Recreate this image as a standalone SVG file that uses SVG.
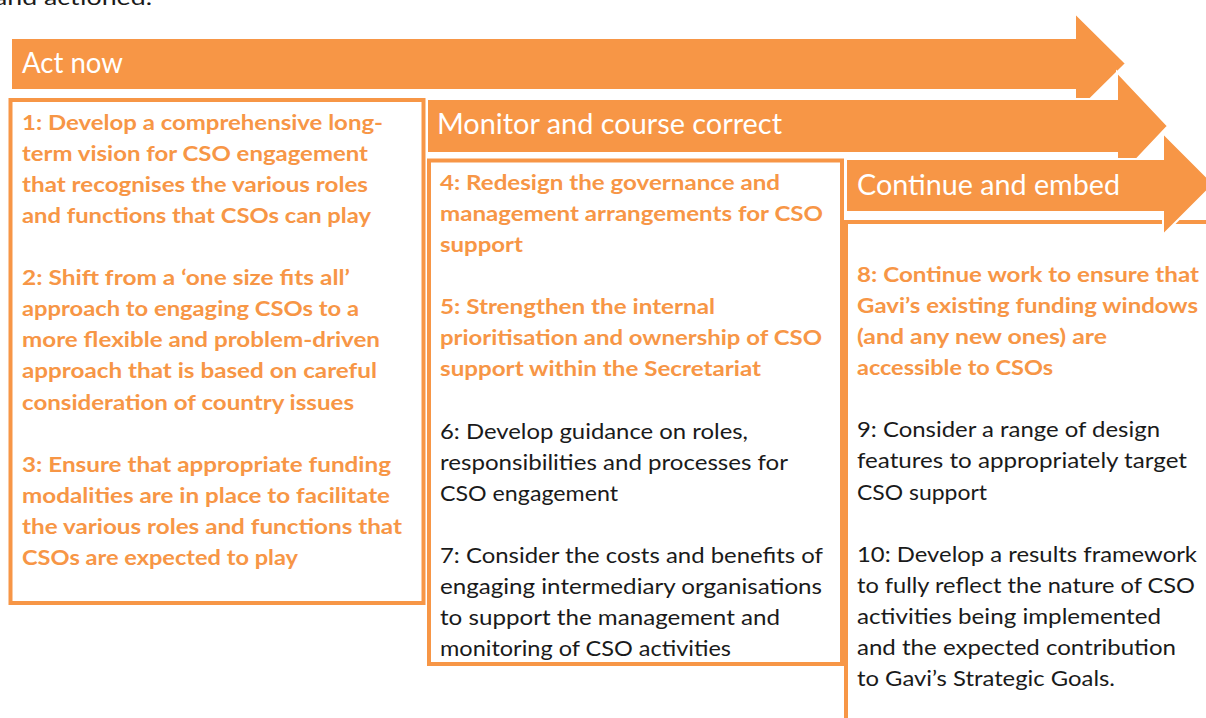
<svg xmlns="http://www.w3.org/2000/svg" width="1206" height="718" viewBox="0 0 1206 718">
<style>
.bg{fill:#ffffff}
.box{fill:#ffffff;stroke:#F79646;stroke-width:4}
.arrow{fill:#F79646;stroke:#ffffff;stroke-width:2;stroke-linejoin:miter}
.hd{font-family:Lato,"Open Sans","Liberation Sans",sans-serif;font-size:28px;fill:#ffffff}
.ob{font-family:Lato,"Open Sans","Liberation Sans",sans-serif;font-size:21px;font-weight:bold;fill:#F79646}
.bk{font-family:Lato,"Open Sans","Liberation Sans",sans-serif;font-size:21px;fill:#1a1a1a}
</style>
<rect class="bg" x="0" y="0" width="1206" height="718"/>
<text class="bk" x="-6" y="5" font-size="24" textLength="158" lengthAdjust="spacingAndGlyphs">and actioned.</text>

<g id="box-act-now">
<rect class="box" x="10.5" y="100" width="413" height="503"/>
<text class="ob" x="22" y="130" textLength="361" lengthAdjust="spacingAndGlyphs">1: Develop a comprehensive long-</text>
<text class="ob" x="22" y="161" textLength="346" lengthAdjust="spacingAndGlyphs">term vision for CSO engagement</text>
<text class="ob" x="22" y="192" textLength="346" lengthAdjust="spacingAndGlyphs">that recognises the various roles</text>
<text class="ob" x="22" y="223" textLength="349" lengthAdjust="spacingAndGlyphs">and functions that CSOs can play</text>
<text class="ob" x="22" y="285" textLength="328" lengthAdjust="spacingAndGlyphs">2: Shift from a ‘one size fits all’</text>
<text class="ob" x="22" y="316" textLength="337" lengthAdjust="spacingAndGlyphs">approach to engaging CSOs to a</text>
<text class="ob" x="22" y="347" textLength="358" lengthAdjust="spacingAndGlyphs">more flexible and problem-driven</text>
<text class="ob" x="22" y="378" textLength="355" lengthAdjust="spacingAndGlyphs">approach that is based on careful</text>
<text class="ob" x="22" y="410" textLength="332" lengthAdjust="spacingAndGlyphs">consideration of country issues</text>
<text class="ob" x="22" y="472" textLength="369" lengthAdjust="spacingAndGlyphs">3: Ensure that appropriate funding</text>
<text class="ob" x="22" y="503" textLength="368" lengthAdjust="spacingAndGlyphs">modalities are in place to facilitate</text>
<text class="ob" x="22" y="534" textLength="380" lengthAdjust="spacingAndGlyphs">the various roles and functions that</text>
<text class="ob" x="22" y="565" textLength="276" lengthAdjust="spacingAndGlyphs">CSOs are expected to play</text>
</g>

<g id="box-monitor">
<rect class="box" x="429" y="160.5" width="413" height="503.5"/>
<text class="ob" x="440" y="190" textLength="340" lengthAdjust="spacingAndGlyphs">4: Redesign the governance and</text>
<text class="ob" x="440" y="221" textLength="383" lengthAdjust="spacingAndGlyphs">management arrangements for CSO</text>
<text class="ob" x="440" y="252" textLength="83" lengthAdjust="spacingAndGlyphs">support</text>
<text class="ob" x="440" y="314" textLength="275" lengthAdjust="spacingAndGlyphs">5: Strengthen the internal</text>
<text class="ob" x="440" y="345" textLength="382" lengthAdjust="spacingAndGlyphs">prioritisation and ownership of CSO</text>
<text class="ob" x="440" y="376" textLength="321" lengthAdjust="spacingAndGlyphs">support within the Secretariat</text>
<text class="bk" x="440" y="439" textLength="308" lengthAdjust="spacingAndGlyphs">6: Develop guidance on roles,</text>
<text class="bk" x="440" y="470" textLength="348" lengthAdjust="spacingAndGlyphs">responsibilities and processes for</text>
<text class="bk" x="440" y="501" textLength="178" lengthAdjust="spacingAndGlyphs">CSO engagement</text>
<text class="bk" x="440" y="563" textLength="383" lengthAdjust="spacingAndGlyphs">7: Consider the costs and benefits of</text>
<text class="bk" x="440" y="594" textLength="382" lengthAdjust="spacingAndGlyphs">engaging intermediary organisations</text>
<text class="bk" x="440" y="625" textLength="340" lengthAdjust="spacingAndGlyphs">to support the management and</text>
<text class="bk" x="440" y="656" textLength="291" lengthAdjust="spacingAndGlyphs">monitoring of CSO activities</text>
</g>

<g id="box-continue">
<rect class="box" x="846" y="222" width="380" height="520"/>
<text class="ob" x="857" y="282" textLength="342" lengthAdjust="spacingAndGlyphs">8: Continue work to ensure that</text>
<text class="ob" x="857" y="313" textLength="341" lengthAdjust="spacingAndGlyphs">Gavi’s existing funding windows</text>
<text class="ob" x="857" y="344" textLength="250" lengthAdjust="spacingAndGlyphs">(and any new ones) are</text>
<text class="ob" x="857" y="375" textLength="196" lengthAdjust="spacingAndGlyphs">accessible to CSOs</text>
<text class="bk" x="857" y="437" textLength="303" lengthAdjust="spacingAndGlyphs">9: Consider a range of design</text>
<text class="bk" x="857" y="468" textLength="330" lengthAdjust="spacingAndGlyphs">features to appropriately target</text>
<text class="bk" x="857" y="500" textLength="130" lengthAdjust="spacingAndGlyphs">CSO support</text>
<text class="bk" x="857" y="562" textLength="340" lengthAdjust="spacingAndGlyphs">10: Develop a results framework</text>
<text class="bk" x="857" y="593" textLength="338" lengthAdjust="spacingAndGlyphs">to fully reflect the nature of CSO</text>
<text class="bk" x="857" y="624" textLength="304" lengthAdjust="spacingAndGlyphs">activities being implemented</text>
<text class="bk" x="857" y="655" textLength="319" lengthAdjust="spacingAndGlyphs">and the expected contribution</text>
<text class="bk" x="857" y="686" textLength="258" lengthAdjust="spacingAndGlyphs">to Gavi’s Strategic Goals.</text>
</g>

<g id="arrow-act-now">
<polygon class="arrow" points="11,38 1075,38 1075,13 1126,63.5 1075,114 1075,90 11,90"/>
<text class="hd" x="22" y="73" textLength="101" lengthAdjust="spacingAndGlyphs">Act now</text>
</g>

<g id="arrow-monitor">
<polygon class="arrow" points="427,99 1117,99 1117,72 1168,126 1117,180 1117,153 427,153"/>
<text class="hd" x="437" y="134" textLength="345" lengthAdjust="spacingAndGlyphs">Monitor and course correct</text>
</g>

<g id="arrow-continue">
<polygon class="arrow" points="846,159 1163,159 1163,133 1214,184 1163,235 1163,212 846,212"/>
<text class="hd" x="857" y="195" textLength="263" lengthAdjust="spacingAndGlyphs">Continue and embed</text>
</g>
</svg>
